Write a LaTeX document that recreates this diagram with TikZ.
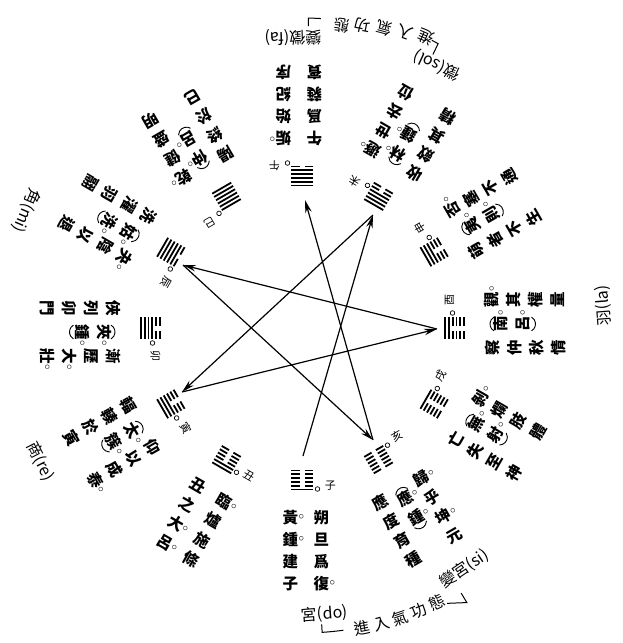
\documentclass[tikz,border=0pt]{standalone}
\usepackage{fontspec}
\newfontfamily\cjk{Noto Sans CJK TC}
\usetikzlibrary{arrows.meta}

% character with a small ring beside it
\newcommand\qd[1]{#1\rlap{\kern0.5pt\raisebox{3.5pt}{$\scriptstyle\circ$}}}

% hexagram, lines from bottom to top (1 = whole, 0 = broken)
\newcommand\gua[1]{%
  \foreach \bit [count=\i from 0] in {#1}
    \draw[yao] (-11,{-9.5+3.8*\i}) -- ({-2.5*(1-\bit)},{-9.5+3.8*\i})
               ({2.5*(1-\bit)},{-9.5+3.8*\i}) -- (11,{-9.5+3.8*\i});}

% station: angle, branch, ring offset, lines, right, middle, left column
\newcommand\station[7]{%
  \begin{scope}[shift={(#1:152)}, rotate=#1+90]
    \gua{#4}
    \draw[ring] (15,#3) circle (2.3);
    \node[zhi] (zhi#1) at (28,#3+3) {#2};
    \node[col] (colr#1) at (28,-30) {#5};
    \node[col] (colm#1) at (4,-39) {#6};
    \node[col] (coll#1) at (-20,-30) {#7};
    \draw[paren] (-2.9,-39.5) arc[start angle=150, end angle=30, radius=8];
    \draw[paren] (-2.9,-77) arc[start angle=-150, end angle=-30, radius=8];
  \end{scope}}

% station with two columns only
\newcommand\stationb[6]{%
  \begin{scope}[shift={(#1:152)}, rotate=#1+90]
    \gua{#4}
    \draw[ring] (15,#3) circle (2.3);
    \node[zhi] (zhi#1) at (28,#3+3) {#2};
    \node[col] (colr#1) at (19,-30) {#5};
    \node[col] (coll#1) at (-12,-30) {#6};
  \end{scope}}

\tikzset{
  yao/.style={line width=1.8pt},
  ring/.style={line width=0.7pt},
  paren/.style={line width=0.9pt},
  col/.style={font=\cjk\bfseries\fontsize{15.5}{22}\selectfont, align=center,
    anchor=north, inner sep=0pt, transform shape},
  zhi/.style={font=\cjk\fontsize{11}{11}\selectfont, inner sep=0pt, transform shape},
  note/.style={font=\cjk\fontsize{16}{16}\selectfont, inner sep=0pt},
  link/.style={line width=1.2pt, -{Stealth[length=13pt,width=6.5pt]}},
  brk/.style={line width=1pt},
}

\begin{document}
\begin{tikzpicture}[x=1pt,y=1pt]
  \useasboundingbox (-302.5,-315) rectangle (320.5,328);

  % star of the seven notes
  \coordinate (zi) at (0.5,-128);
  \coordinate (wei) at (70.5,113);
  \coordinate (yin) at (-120.5,-64);
  \coordinate (you) at (134.5,-1);
  \coordinate (chen) at (-119.5,63);
  \coordinate (hai) at (70.5,-112);
  \coordinate (wu) at (2.5,128);

  \draw[link] (zi) -- (wei);
  \draw[link] (wei) -- (yin);
  \draw[link] (yin) -- (you);
  \draw[link] (you) -- (chen);
  \draw[link] (chen) -- (hai);
  \draw[link] (hai) -- (wu);

  % the twelve stations
  \stationb{-90}{子}{-9}{1,0,0,0,0,0}{朔\\旦\\爲\\\qd{復}}{\qd{黃}\\\qd{鍾}\\建\\子}
  \stationb{-120}{丑}{-6}{1,1,0,0,0,0}{\qd{臨}\\爐\\施\\條}{丑\\之\\\qd{大}\\\qd{呂}}
  \station{-150}{寅}{-2}{1,1,1,0,0,0}{仰\\以\\成\\\qd{泰}}{\qd{太}\\\qd{簇}}{輻\\輳\\於\\寅}
  \station{180}{卯}{2}{1,1,1,1,0,0}{漸\\歷\\\qd{大}\\\qd{壯}}{\qd{夾}\\\qd{鍾}}{俠\\列\\卯\\門}
  \station{150}{辰}{8}{1,1,1,1,1,0}{\qd{夬}\\陰\\以\\退}{\qd{姑}\\\qd{洗}}{洗\\濯\\羽\\翮}
  \station{120}{巳}{11}{1,1,1,1,1,1}{\qd{乾}\\健\\盛\\明}{\qd{仲}\\\qd{呂}}{陽\\終\\於\\巳}
  \stationb{90}{午}{-13}{0,1,1,1,1,1}{\qd{姤}\\始\\紀\\序}{午\\爲\\蕤\\賓}
  \station{60}{未}{-4}{0,0,1,1,1,1}{\qd{遯}\\世\\去\\位}{\qd{林}\\\qd{鍾}}{收\\斂\\其\\精}
  \station{30}{申}{-3}{0,0,0,1,1,1}{\qd{否}\\塞\\不\\通}{\qd{夷}\\\qd{則}}{萌\\者\\不\\生}
  \station{0}{酉}{2}{0,0,0,0,1,1}{\qd{觀}\\其\\權\\量}{\qd{南}\\\qd{呂}}{察\\仲\\秋\\情}
  \station{-30}{戌}{5}{0,0,0,0,0,1}{\qd{剝}\\爛\\肢\\體}{\qd{無}\\\qd{射}}{亡\\失\\至\\神}
  \station{-60}{亥}{8}{0,0,0,0,0,0}{\qd{歸}\\乎\\\qd{坤}\\元}{\qd{應}\\\qd{鍾}}{應\\度\\育\\種}

  % the seven notes
  \node[note, rotate=4.4] (gong) at (-85.6:287) {宮(do)};
  \node[note, rotate=33.9] (biangong) at (-56.1:290) {變宮(si)};
  \node[note, rotate=94.3] (yu) at (4.3:302) {羽(la)};
  \node[note, rotate=-63] (shang) at (-153:294) {商(re)};
  \node[note, rotate=247] (jue) at (157:300) {角(mi)};
  \node[note, rotate=155] (zhinote) at (62.9:295) {徵(sol)};
  \node[note, rotate=181.9] (bianzhi) at (91.9:291) {變徵(fa)};

  % brackets
  \draw[brk] (-86.3:297) -- (-86.3:305) arc[start angle=-86.3, end angle=-82.3, radius=305];
  \draw[brk] (-62.3:311) -- (-59.1:320) -- (-59.1:309);
  \foreach \c [count=\k] in {進,入,氣,功,態}
    \node[note, rotate={11.3+3.7*(\k-1)}] (jb\k) at ({-78.7+3.7*(\k-1)}:306) {\c};

  \draw[brk] (88.9:302) -- (88.9:310) arc[start angle=88.9, end angle=86.6, radius=310];
  \draw[brk] (65.8:315.5) -- (64.5:315) -- (64.5:303);
  \foreach \c [count=\k] in {進,入,氣,功,態}
    \node[note, rotate={157+3.9*(\k-1)}] (jt\k) at ({67+3.9*(\k-1)}:{316-2.75*(\k-1)}) {\c};
\end{tikzpicture}
\end{document}
